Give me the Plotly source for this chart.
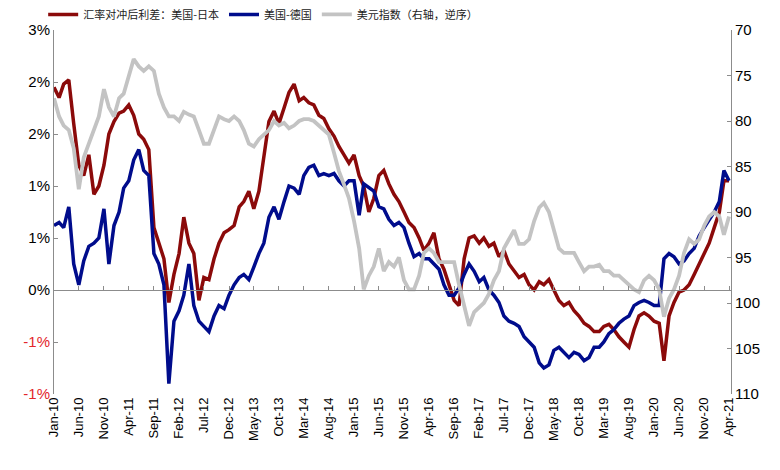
import pandas as pd
import plotly.graph_objects as go

# Monthly observations, Jan-2010 .. Apr-2021 (136 months)
months = pd.date_range("2010-01-01", "2021-04-01", freq="MS")

us_japan = [
    1.95, 1.85, 1.98, 2.02, 1.6, 1.2, 1.1, 1.3, 0.92, 1.0,
    1.2, 1.5, 1.62, 1.7, 1.72, 1.78, 1.68, 1.5, 1.45, 1.35,
    0.6, 0.45, 0.3, -0.12, 0.15, 0.35, 0.7, 0.45, 0.35, -0.1,
    0.12, 0.1, 0.3, 0.45, 0.55, 0.58, 0.62, 0.8, 0.85, 0.95,
    0.78, 0.95, 1.3, 1.62, 1.72, 1.6, 1.75, 1.9, 1.98, 1.82,
    1.85, 1.8, 1.78, 1.68, 1.65, 1.55, 1.48, 1.38, 1.3, 1.22,
    1.3, 1.1, 1.0, 0.75, 0.88, 1.1, 1.15, 1.02, 0.92, 0.85,
    0.75, 0.65, 0.6, 0.5, 0.38, 0.45, 0.55, 0.3, 0.2, 0.05,
    -0.1, -0.15, 0.3, 0.5, 0.52, 0.45, 0.5, 0.42, 0.45, 0.32,
    0.38, 0.25, 0.18, 0.12, 0.15, 0.05, 0.0, 0.08, 0.05, 0.1,
    0.0, -0.1, -0.15, -0.12, -0.2, -0.25, -0.32, -0.35, -0.4, -0.4,
    -0.35, -0.33, -0.38, -0.45, -0.5, -0.55, -0.38, -0.25, -0.22, -0.25,
    -0.3, -0.32, -0.68, -0.25, -0.12, -0.02, 0.0, 0.05, 0.15, 0.25,
    0.35, 0.45, 0.6, 0.75, 1.05, 1.05,
]

us_germany = [
    0.62, 0.65, 0.6, 0.8, 0.25, 0.05, 0.28, 0.42, 0.45, 0.5,
    0.78, 0.25, 0.62, 0.75, 0.98, 1.05, 1.25, 1.35, 1.15, 1.1,
    0.35, 0.25, 0.05, -0.9, -0.3, -0.2, -0.05, 0.25, -0.15, -0.3,
    -0.35, -0.4, -0.25, -0.15, -0.18, -0.05, 0.05, 0.12, 0.15, 0.1,
    0.22, 0.35, 0.45, 0.7, 0.8, 0.68, 0.85, 1.0, 0.98, 0.92,
    1.1, 1.18, 1.2, 1.1, 1.12, 1.1, 1.12, 1.05, 1.0, 1.05,
    1.05, 0.72, 1.02, 0.98, 0.95, 0.8, 0.78, 0.68, 0.62, 0.65,
    0.6, 0.45, 0.32, 0.35, 0.3, 0.3, 0.25, 0.2, 0.05, -0.05,
    -0.05, 0.02, 0.15, 0.25, 0.18, 0.08, 0.12, 0.0, -0.05, -0.12,
    -0.25, -0.3, -0.32, -0.35, -0.45, -0.5, -0.55, -0.7, -0.75, -0.72,
    -0.58, -0.55, -0.6, -0.65, -0.6, -0.62, -0.68, -0.65, -0.55, -0.55,
    -0.5, -0.42, -0.38, -0.32, -0.28, -0.25, -0.15, -0.12, -0.1, -0.12,
    -0.15, -0.15, 0.3, 0.35, 0.32, 0.25, 0.28, 0.35, 0.4, 0.52,
    0.6, 0.68, 0.75, 0.85, 1.15, 1.05,
]

dollar_index = [
    77.5, 79.5, 80.5, 81.0, 83.0, 87.5, 84.0, 82.5, 81.0, 79.5,
    76.5, 78.5, 79.5, 77.5, 77.0, 75.0, 73.2, 74.0, 74.5, 74.0,
    74.5, 77.0, 78.5, 79.5, 79.5, 80.0, 79.0, 79.3, 79.5, 81.0,
    82.5, 82.5, 81.0, 79.5, 79.8, 80.0, 79.5, 80.0, 81.0, 82.5,
    82.8, 82.0, 81.5, 81.0, 80.0, 80.5, 80.2, 80.8, 80.5, 80.0,
    79.8, 79.8, 80.0, 80.5, 81.0, 81.5, 83.5, 85.5, 87.0, 88.5,
    91.0, 94.0, 98.5, 97.0, 96.0, 94.0, 96.5, 95.5, 96.0, 95.0,
    97.5, 98.5, 98.5, 97.0, 94.5, 94.0, 94.5, 95.5, 95.5, 95.5,
    95.5, 98.0, 100.5, 102.5, 101.0, 100.5, 100.0, 99.0, 97.5, 96.5,
    94.0, 93.0, 92.0, 93.5, 93.5, 93.0, 91.0, 89.5, 89.0, 90.0,
    92.0, 94.0, 94.5, 94.5, 94.5, 95.5, 96.5, 96.0, 96.0, 95.8,
    96.5, 96.5, 97.0, 97.0, 97.5, 98.0, 98.5, 98.8, 97.5, 97.0,
    97.5, 98.5, 101.5, 99.5, 98.5, 97.0, 94.5, 93.0, 93.5, 93.0,
    91.5, 90.5, 90.0, 90.5, 92.5, 90.5,
]

series_names = ["汇率对冲后利差：美国-日本", "美国-德国", "美元指数（右轴，逆序）"]

tick_labels = [
    "Jan-10", "Jun-10", "Nov-10", "Apr-11", "Sep-11", "Feb-12", "Jul-12",
    "Dec-12", "May-13", "Oct-13", "Mar-14", "Aug-14", "Jan-15", "Jun-15",
    "Nov-15", "Apr-16", "Sep-16", "Feb-17", "Jul-17", "Dec-17", "May-18",
    "Oct-18", "Mar-19", "Aug-19", "Jan-20", "Jun-20", "Nov-20", "Apr-21",
]
tick_dates = pd.date_range("2010-01-01", periods=len(tick_labels), freq="5MS")

left_vals = [-1.0, -0.5, 0.0, 0.5, 1.0, 1.5, 2.0, 2.5]
left_text = ["-1%", "-1%", "0%", "1%", "1%", "2%", "2%", "3%"]
right_vals = [70, 75, 80, 85, 90, 95, 100, 105, 110]

RED = "#8B0A0A"
NAVY = "#000C8C"
GRAY = "#C3C3C3"
NEG = "#E3262B"
AXC = "#8C8C8C"

x_range = ["2010-01-01", "2021-04-13"]
y_range = [left_vals[0], left_vals[-1]]

fig = go.Figure()
fig.add_trace(go.Scatter(x=months, y=us_japan, name=series_names[0], mode="lines",
                         line=dict(color=RED, width=3.5), xaxis="x", yaxis="y"))
fig.add_trace(go.Scatter(x=months, y=us_germany, name=series_names[1], mode="lines",
                         line=dict(color=NAVY, width=3.5), xaxis="x", yaxis="y"))
fig.add_trace(go.Scatter(x=months, y=dollar_index, name=series_names[2], mode="lines",
                         line=dict(color=GRAY, width=3.8), xaxis="x", yaxis="y2"))

left_ticktext = [f'<span style="color:{NEG}">{t}</span>' if v < 0 else t
                 for v, t in zip(left_vals, left_text)]

zero_pos = (0 - y_range[0]) / (y_range[1] - y_range[0])

fig.update_layout(
    width=780, height=470,
    margin=dict(l=54, r=49, t=30, b=76, autoexpand=False),
    paper_bgcolor="white", plot_bgcolor="white",
    font=dict(family="Liberation Sans, Arial, sans-serif", size=15, color="black"),
    showlegend=True,
    legend=dict(orientation="h", x=-0.016, xanchor="left", y=1.003, yanchor="bottom",
                font=dict(family="Noto Sans CJK SC", size=11, color="#222"),
                itemwidth=30, tracegroupgap=0, bgcolor="rgba(0,0,0,0)"),
    xaxis=dict(type="date", range=x_range, tickmode="array",
               tickvals=tick_dates, ticktext=tick_labels, tickangle=-90,
               tickfont=dict(size=13), showgrid=False, showline=False,
               ticks="", zeroline=False),
    xaxis2=dict(type="date", range=x_range, overlaying="x", anchor="free",
                position=zero_pos, tickmode="array", tickvals=tick_dates,
                showticklabels=False, showgrid=False, showline=True,
                linecolor=AXC, linewidth=1, ticks="inside", ticklen=4,
                tickcolor=AXC, zeroline=False),
    yaxis=dict(range=y_range, tickmode="array", tickvals=left_vals,
               ticktext=left_ticktext, showgrid=False, zeroline=False,
               showline=True, linecolor=AXC, linewidth=1,
               ticks="inside", ticklen=4, tickcolor=AXC),
    yaxis2=dict(range=[right_vals[-1], right_vals[0]], overlaying="y", side="right",
                tickmode="array", tickvals=right_vals, showgrid=False,
                zeroline=False, showline=True, linecolor=AXC, linewidth=1,
                ticks="inside", ticklen=4, tickcolor=AXC),
)

# invisible helper so the zero-line axis is rendered
fig.add_trace(go.Scatter(x=[months[0]], y=[0], xaxis="x2", yaxis="y",
                         mode="markers", marker=dict(opacity=0),
                         showlegend=False, hoverinfo="skip"))

fig.write_html("out.html", config={"displayModeBar": False},
               post_script="document.body.style.margin='0';")
